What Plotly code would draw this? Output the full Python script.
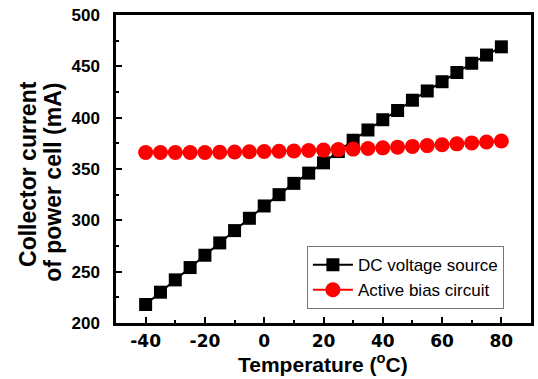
import plotly.graph_objects as go

temperature = [-40, -35, -30, -25, -20, -15, -10, -5, 0, 5, 10, 15, 20, 25, 30, 35, 40, 45, 50, 55, 60, 65, 70, 75, 80]
dc_voltage_source = [218, 230, 242, 254, 266, 278, 290, 302, 314, 325, 336, 346, 356, 367, 378, 388, 398, 407, 417, 426, 435, 444, 453, 461, 469]
active_bias_circuit = [366, 366, 366, 366, 366, 366.3, 366.5, 366.8, 367, 367.3, 367.6, 368, 368.4, 368.9, 369.4, 370, 370.6, 371.3, 372, 372.8, 373.6, 374.5, 375.4, 376.3, 377.3]
x_ticks = [-40, -20, 0, 20, 40, 60, 80]
x_tick_labels = ["-40", "-20", "0", "20", "40", "60", "80"]
y_ticks = [200, 250, 300, 350, 400, 450, 500]
y_title_lines = ["Collector current", "of power cell (mA)"]
x_title = "Temperature (<sup>o</sup>C)"

fig = go.Figure()
fig.add_trace(go.Scatter(x=temperature, y=dc_voltage_source, name="DC voltage source",
                         mode="lines+markers", line=dict(color="black", width=2),
                         marker=dict(symbol="square", size=13, color="black")))
fig.add_trace(go.Scatter(x=temperature, y=active_bias_circuit, name="Active bias circuit",
                         mode="lines+markers", line=dict(color="red", width=2),
                         marker=dict(symbol="circle", size=15, color="red")))

axis_common = dict(showline=True, linecolor="black", linewidth=2.5, mirror=True,
                   ticks="inside", ticklen=6, tickwidth=2, tickcolor="black",
                   showgrid=False, zeroline=False, automargin=False)

fig.update_layout(
    width=538, height=379,
    margin=dict(l=116, r=7, t=15, b=56),
    paper_bgcolor="white", plot_bgcolor="white",
    font=dict(family="Liberation Sans, Arial", color="black"),
    xaxis=dict(range=[-50, 90], tickvals=x_ticks, ticktext=x_tick_labels,
               minor=dict(dtick=10, ticks="inside", ticklen=3, tickwidth=2, tickcolor="black"),
               tickfont=dict(size=17, family="DejaVu Sans", weight="bold"),
               ticklabelstandoff=1,
               **axis_common),
    yaxis=dict(range=[200, 500], tickvals=y_ticks,
               minor=dict(dtick=25, ticks="inside", ticklen=3, tickwidth=2, tickcolor="black"),
               tickfont=dict(size=17, family="Liberation Sans", weight="bold"),
               ticklabelstandoff=10,
               **axis_common),
    legend=dict(x=0.46, y=0.045, xanchor="left", yanchor="bottom",
                bgcolor="white", bordercolor="#777777", borderwidth=1,
                font=dict(size=17, family="Liberation Sans, Arial"),
                tracegroupgap=0, itemwidth=40),
    showlegend=True,
)

title_font = dict(size=23, family="Liberation Sans, Arial", weight="bold", color="black")
fig.add_annotation(text=y_title_lines[0], xref="paper", yref="paper", x=-0.212, y=0.484,
                   xanchor="center", yanchor="middle", textangle=-90, showarrow=False, font=title_font)
fig.add_annotation(text=y_title_lines[1], xref="paper", yref="paper", x=-0.152, y=0.458,
                   xanchor="center", yanchor="middle", textangle=-90, showarrow=False, font=title_font)
fig.add_annotation(text=x_title, xref="paper", yref="paper", x=0.499, y=-0.125,
                   xanchor="center", yanchor="top", yshift=14, showarrow=False,
                   font=dict(size=21, family="Liberation Sans, Arial", weight="bold", color="black"))

fig.write_html("out.html", config={"displayModeBar": False},
               post_script="document.body.style.margin='0px';")
